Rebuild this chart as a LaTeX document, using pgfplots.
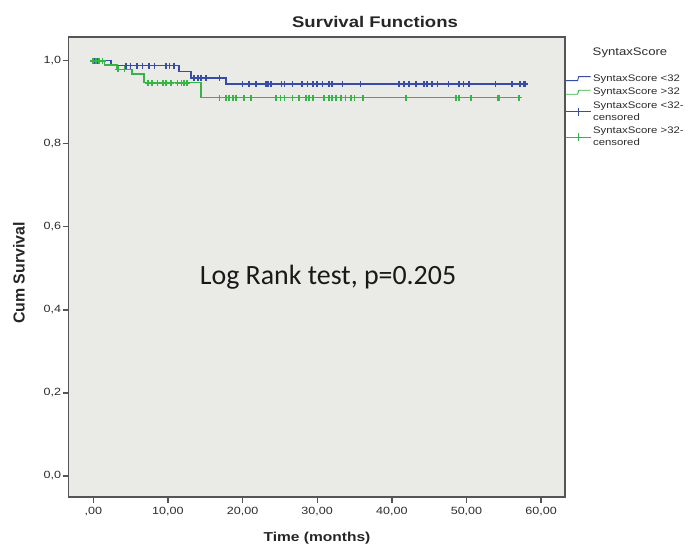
\documentclass[border=0pt]{standalone}
\usepackage{pgfplots}
\pgfplotsset{compat=1.18}
\usepackage{fontspec}
\setmainfont{Liberation Sans}[FakeStretch=1.2]
\newfontfamily\plainsans{Liberation Sans}
\newfontfamily\calibri{Carlito}
\definecolor{bgc}{RGB}{234,234,230}
\definecolor{cblue}{RGB}{55,75,170}
\definecolor{cgreen}{RGB}{55,180,70}
\definecolor{frm}{RGB}{85,85,85}
\definecolor{txt}{RGB}{45,45,45}
\begin{document}
\begin{tikzpicture}[x=1bp,y=1bp]
\useasboundingbox[fill=white] (0,0) rectangle (698,548);
\begin{axis}[
  at={(68.5bp,51bp)}, anchor=south west,
  scale only axis, width=496.5bp, height=460bp,
  xmin=-3.32, xmax=63.2, ymin=-0.0506, ymax=1.057,
  axis background/.style={fill=bgc},
  axis line style={draw=frm, line width=1.4bp},
  xtick={0,10,20,30,40,50,60},
  xticklabels={{,00},{10,00},{20,00},{30,00},{40,00},{50,00},{60,00}},
  ytick={0,0.2,0.4,0.6,0.8,1.0},
  yticklabels={{0,0},{0,2},{0,4},{0,6},{0,8},{1,0}},
  /pgf/number format/assume math mode=true,
  xtick pos=left, ytick pos=left, tick align=outside,
  major tick length=6bp,
  tick style={draw=frm, line width=1.4bp},
  ticklabel style={font=\fontsize{10.5}{12}\selectfont, text=txt},
  xticklabel style={yshift=-1bp},
  yticklabel style={xshift=2bp},
  legend style={at={(axis description cs:1.0,0.923)}, anchor=north west,
    draw=none, fill=none, inner sep=0pt, row sep=1.5bp,
    font=\fontsize{9.5}{12}\selectfont, cells={align=left, text=txt}},
  legend cell align=left,
]
\addplot[cblue, line width=1.6bp, const plot,
  legend image code/.code={\draw[cblue,line width=0.9bp] (0bp,-2bp) -- (12bp,-2bp) -- (13bp,2bp) -- (25bp,2bp);}]
  coordinates {(0,1.0) (2.4,0.988) (11.5,0.974) (13.1,0.958) (17.8,0.944) (58,0.944)};
\addlegendentry{SyntaxScore <32}
\addplot[cgreen, line width=1.6bp, const plot,
  legend image code/.code={\draw[cgreen,line width=0.9bp] (0bp,-2bp) -- (12bp,-2bp) -- (13bp,2bp) -- (25bp,2bp);}]
  coordinates {(0,1.0) (1.5,0.99) (3.2,0.979) (5.2,0.968) (6.8,0.947) (14.4,0.911) (57,0.911)};
\addlegendentry{SyntaxScore >32}
\addplot[cblue, only marks, mark=+, mark size=3bp, mark options={line width=1.7bp},
  legend image code/.code={\draw[cblue,line width=0.9bp] (0bp,0bp) -- (25bp,0bp); \draw[cblue,line width=0.9bp] (12.5bp,-4bp) -- (12.5bp,4bp);}]
  coordinates {
  (0.13,1.0) (0.6,1.0)
  (4.4,0.988) (5.0,0.988) (5.9,0.988) (6.6,0.988) (7.5,0.988) (8.2,0.988) (9.7,0.988) (10.2,0.988) (10.8,0.988)
  (13.5,0.958) (14.0,0.958) (14.4,0.958) (15.1,0.958) (16.9,0.958)
  (20.0,0.944) (20.9,0.944) (21.8,0.944) (23.1,0.944) (23.4,0.944) (23.8,0.944) (25.2,0.944) (25.6,0.944)
  (26.7,0.944) (28.0,0.944) (28.7,0.944) (29.4,0.944) (30.0,0.944) (30.7,0.944) (31.6,0.944) (32.0,0.944)
  (33.4,0.944) (35.8,0.944) (41.0,0.944) (41.6,0.944) (42.3,0.944) (43.2,0.944) (44.3,0.944) (44.7,0.944)
  (45.4,0.944) (46.1,0.944) (47.6,0.944) (49.0,0.944) (49.6,0.944) (50.3,0.944) (53.9,0.944) (56.1,0.944)
  (57.2,0.944) (57.7,0.944) (57.9,0.944)};
\addlegendentry{SyntaxScore <32-\\censored}
\addplot[cgreen, only marks, mark=+, mark size=3bp, mark options={line width=1.7bp},
  legend image code/.code={\draw[cgreen,line width=0.9bp] (0bp,0bp) -- (25bp,0bp); \draw[cgreen,line width=0.9bp] (12.5bp,-4bp) -- (12.5bp,4bp);}]
  coordinates {
  (0.0,1.0) (0.4,1.0) (0.8,1.0) (1.25,1.0)
  (3.3,0.979) (4.2,0.979)
  (7.3,0.947) (7.9,0.947) (8.6,0.947) (9.3,0.947) (9.7,0.947) (10.4,0.947) (11.3,0.947) (11.8,0.947) (12.2,0.947) (12.6,0.947)
  (16.9,0.911) (17.8,0.911) (18.2,0.911) (18.7,0.911) (19.1,0.911) (20.2,0.911) (21.1,0.911) (24.5,0.911)
  (25.1,0.911) (25.6,0.911) (26.7,0.911) (27.6,0.911) (28.5,0.911) (28.9,0.911) (29.4,0.911) (30.9,0.911)
  (31.6,0.911) (32.0,0.911) (32.5,0.911) (33.2,0.911) (33.8,0.911) (34.5,0.911) (35.0,0.911) (36.1,0.911)
  (41.9,0.911) (48.6,0.911) (49.0,0.911) (50.6,0.911) (54.2,0.911) (54.4,0.911) (57.0,0.911)};
\addlegendentry{SyntaxScore >32-\\censored}
\end{axis}
\node[font=\bfseries\fontsize{15.5}{18}\selectfont, text=black!85] at (375,526) {Survival Functions};
\node[font=\fontsize{11}{12}\selectfont, text=txt] at (630,495) {SyntaxScore};
\node[font=\plainsans\bfseries\fontsize{16}{18}\selectfont, text=black!85, rotate=90] at (19,275) {Cum Survival};
\node[font=\bfseries\fontsize{13}{15}\selectfont, text=black!85] at (317,10) {Time (months)};
\node[font=\calibri\fontsize{28}{30}\selectfont, text=black!90, anchor=base] at (328,263) {Log Rank test, p=0.205};
\end{tikzpicture}
\end{document}
